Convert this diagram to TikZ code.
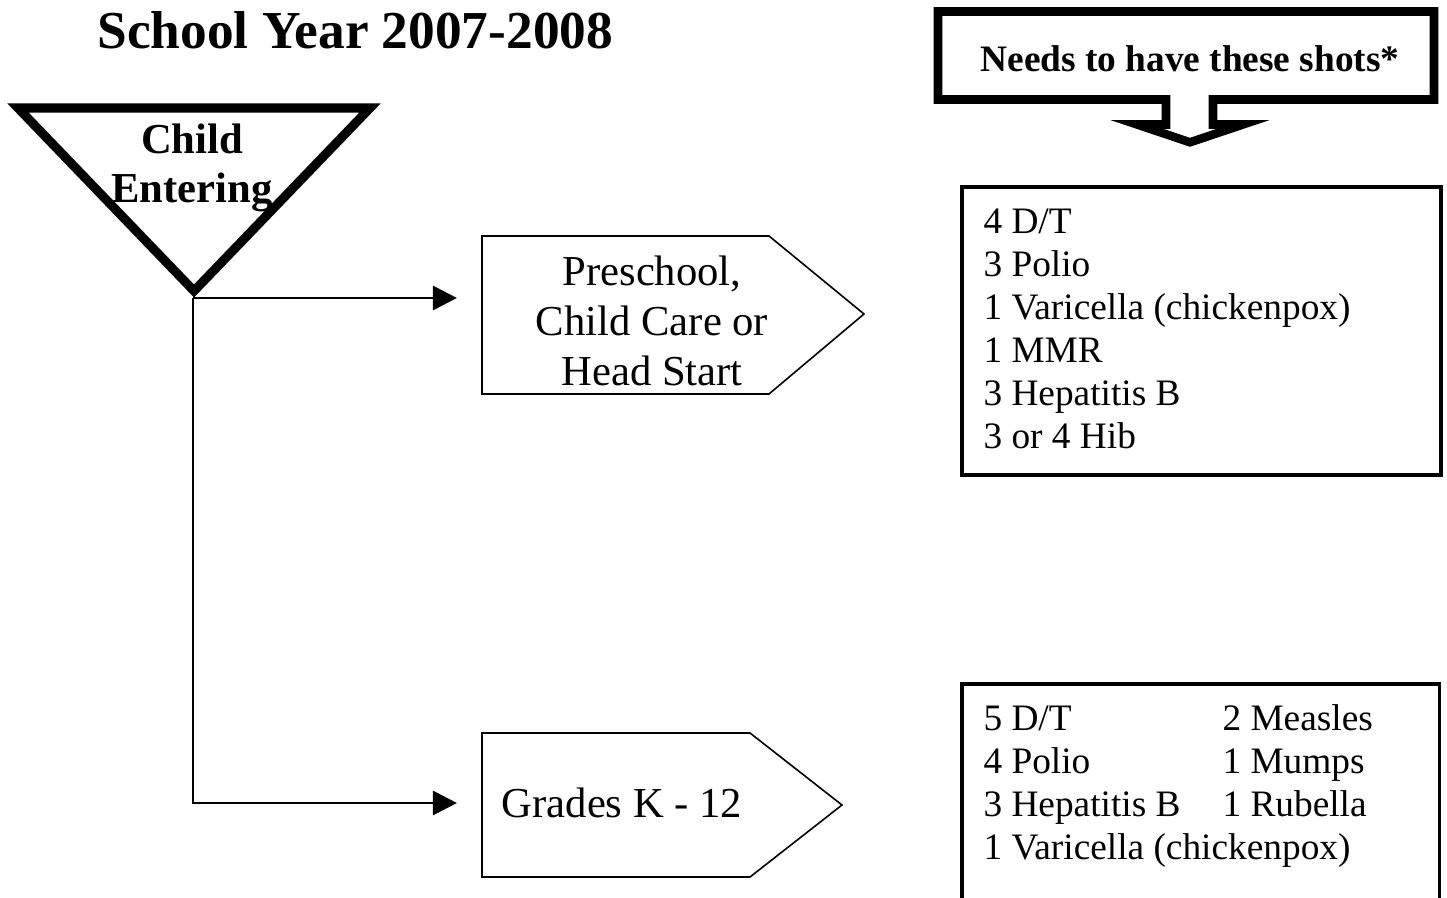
\documentclass[tikz,border=0pt]{standalone}
\usepackage{fontspec}
\setmainfont{Liberation Serif}
\usetikzlibrary{arrows.meta}
\begin{document}
\begin{tikzpicture}[x=0.375pt,y=-0.375pt,
  lbl/.style={inner sep=0pt, anchor=base},
  lblw/.style={inner sep=0pt, anchor=base west},
  titlefont/.style={font=\fontsize{20}{23}\selectfont\bfseries},
  hdrfont/.style={font=\fontsize{14}{16.1}\selectfont\bfseries},
  childfont/.style={font=\fontsize{16}{18.4}\selectfont\bfseries},
  pentfont/.style={font=\fontsize{16}{18.4}\selectfont},
  shotfont/.style={font=\fontsize{14}{16.1}\selectfont},
  callout/.style={draw=black, line width=3.2pt, line join=miter, fill=white},
  tri/.style={draw=black, line width=3.4pt, line join=miter},
  pent/.style={draw=black, line width=0.6pt, line join=miter},
  shotbox/.style={draw=black, line width=1.4pt},
  conn/.style={draw=black, line width=1.1pt, shorten >=9.4pt,
    -{Triangle[length=9pt,width=9pt]}}]
\useasboundingbox (0,0) rectangle (1447,898);

% title
\node[lblw, titlefont] (title) at (97,49) {School Year 2007-2008};

% callout arrow box
\draw[callout] (938,11.5) -- (1434,11.5) -- (1434,99.5) -- (1213,99.5)
  -- (1213,124.5) -- (1243,124.5) -- (1190,142.3) -- (1137,124.5)
  -- (1166,124.5) -- (1166,99.5) -- (938,99.5) -- cycle;
\node[lbl, hdrfont] (needs) at (1190,72) {Needs to have these shots*};

% triangle
\draw[tri] (18,108) -- (370,108) -- (194,291) -- cycle;
\coordinate (apex) at (193,298);
\node[lbl, childfont] (child) at (192,154) {Child};
\node[lbl, childfont] (entering) at (192,203) {Entering};

% pentagon 1
\draw[pent] (482,236) -- (769,236) -- (864,314) -- (769,394) -- (482,394) -- cycle;
\coordinate (p1) at (482,299);
\node[lbl, pentfont] (pre1) at (652,286) {Preschool,};
\node[lbl, pentfont] (pre2) at (652,336) {Child Care or};
\node[lbl, pentfont] (pre3) at (652,386) {Head Start};

% pentagon 2
\draw[pent] (482,733) -- (750,733) -- (842,805) -- (750,877) -- (482,877) -- cycle;
\coordinate (p2) at (482,803);
\node[lbl, pentfont] (grades) at (622,817) {Grades K - 12};

% connectors
\draw[conn] (apex) -- (p1 |- apex);
\draw[conn] (apex) |- (p2);

% shot box 1
\draw[shotbox] (962,187) rectangle (1441,475);
\foreach \t [count=\i] in {4 D/T, 3 Polio, 1 Varicella (chickenpox), 1 MMR, 3 Hepatitis B, 3 or 4 Hib}
  \node[lblw, shotfont] (s1-\i) at (983,{234+43*(\i-1)}) {\t};

% shot box 2
\draw[shotbox] (962,905) -- (962,684) -- (1439.5,684) -- (1439.5,905);
\foreach \t [count=\i] in {5 D/T, 4 Polio, 3 Hepatitis B, 1 Varicella (chickenpox)}
  \node[lblw, shotfont] (s2a-\i) at (983,{730+43*(\i-1)}) {\t};
\foreach \t [count=\i] in {2 Measles, 1 Mumps, 1 Rubella}
  \node[lblw, shotfont] (s2b-\i) at (1222,{730+43*(\i-1)}) {\t};
\end{tikzpicture}
\end{document}
